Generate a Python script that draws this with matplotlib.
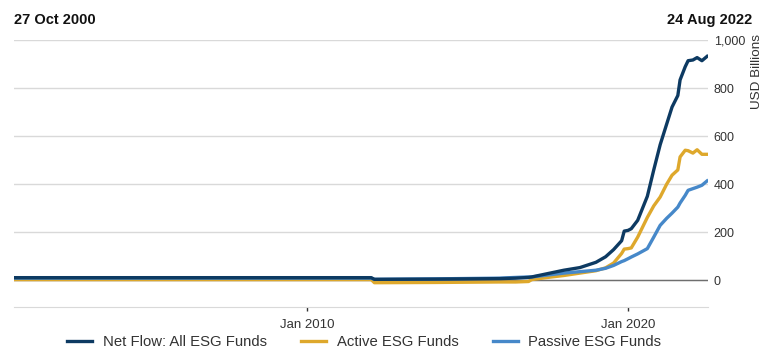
import matplotlib
matplotlib.use('Agg')
import matplotlib.pyplot as plt
import matplotlib.ticker as ticker

plt.rcParams['font.family'] = ['Liberation Sans', 'DejaVu Sans']

# decimal years
years = [2000.87, 2012.0, 2012.1, 2014.0, 2016.0, 2016.5, 2016.9, 2017.0, 2017.5,
         2018.0, 2018.5, 2019.0, 2019.3, 2019.55, 2019.8, 2019.88, 2020.0, 2020.1,
         2020.3, 2020.6, 2020.8, 2021.0, 2021.2, 2021.37, 2021.55, 2021.62, 2021.78,
         2021.87, 2022.02, 2022.15, 2022.3, 2022.46]

net_flow = [11, 11, 4, 5, 7, 9, 12, 14, 28, 42, 53, 75, 98, 128, 165, 205, 208, 215,
            250, 350, 460, 565, 650, 722, 770, 835, 890, 915, 918, 928, 915, 933]
active = [3, 3, -10, -9, -7, -7, -5, 3, 12, 20, 30, 40, 52, 72, 112, 130, 132, 135,
          180, 262, 310, 347, 400, 438, 460, 514, 542, 540, 530, 544, 525, 525]
passive = [9, 9, 4, 6, 9, 12, 14, 14, 22, 30, 36, 42, 50, 62, 78, 82, 90, 97,
           110, 132, 180, 229, 258, 280, 305, 322, 354, 375, 382, 388, 396, 414]

series_names = ['Net Flow: All ESG Funds', 'Active ESG Funds', 'Passive ESG Funds']
x_ticks = [2010.0, 2020.0]
x_ticklabels = ['Jan 2010', 'Jan 2020']
y_ticks = [0, 200, 400, 600, 800, 1000]

COLOR = {0: '#0d3a62', 1: '#dea82c', 2: '#4688c9'}
TXT = '#333333'

fig = plt.figure(figsize=(7.7, 3.58), dpi=100)
ax = fig.add_axes([0.018, 0.1433, 0.9015, 0.7441])

# net flow drawn last so it sits on top
ax.plot(years, active, color=COLOR[1], lw=2.4, label=series_names[1], zorder=3)
ax.plot(years, passive, color=COLOR[2], lw=2.4, label=series_names[2], zorder=4)
ax.plot(years, net_flow, color=COLOR[0], lw=2.4, label=series_names[0], zorder=5)

ax.set_xlim(2000.87, 2022.49)
ax.set_ylim(-110, 1000)

ax.yaxis.tick_right()
ax.set_yticks(y_ticks)
ax.yaxis.set_major_formatter(ticker.FuncFormatter(lambda v, p: '{:,.0f}'.format(v)))
ax.tick_params(axis='y', length=0, pad=4, labelsize=9, labelcolor=TXT)
ax.set_xticks(x_ticks)
ax.set_xticklabels(x_ticklabels)
ax.tick_params(axis='x', length=3, width=1, color='#333333', pad=6,
               labelsize=9.5, labelcolor=TXT)

ax.grid(axis='y', color='#d9d9d9', lw=1)
ax.axhline(0, color='#6e6e6e', lw=1, zorder=2)
for s in ['top', 'left', 'right']:
    ax.spines[s].set_visible(False)
ax.spines['bottom'].set_color('#d9d9d9')
ax.set_axisbelow(True)

fig.text(0.018, 0.945, '27 Oct 2000', fontsize=10.5, fontweight='bold', color='#111111',
         ha='left', va='center')
fig.text(0.977, 0.945, '24 Aug 2022', fontsize=10.5, fontweight='bold', color='#111111',
         ha='right', va='center')
fig.text(0.983, 0.905, 'USD Billions', fontsize=9.7, color=TXT, rotation=90,
         ha='center', va='top')

handles, labels = ax.get_legend_handles_labels()
order = [2, 0, 1]
fig.legend([handles[i] for i in order], [labels[i] for i in order],
           loc='center', bbox_to_anchor=(0.473, 0.045), ncol=3, frameon=False,
           fontsize=10.7, handlelength=1.7, columnspacing=2.3, handletextpad=0.7,
           labelcolor=TXT)

fig.savefig('out.png', dpi=100)
